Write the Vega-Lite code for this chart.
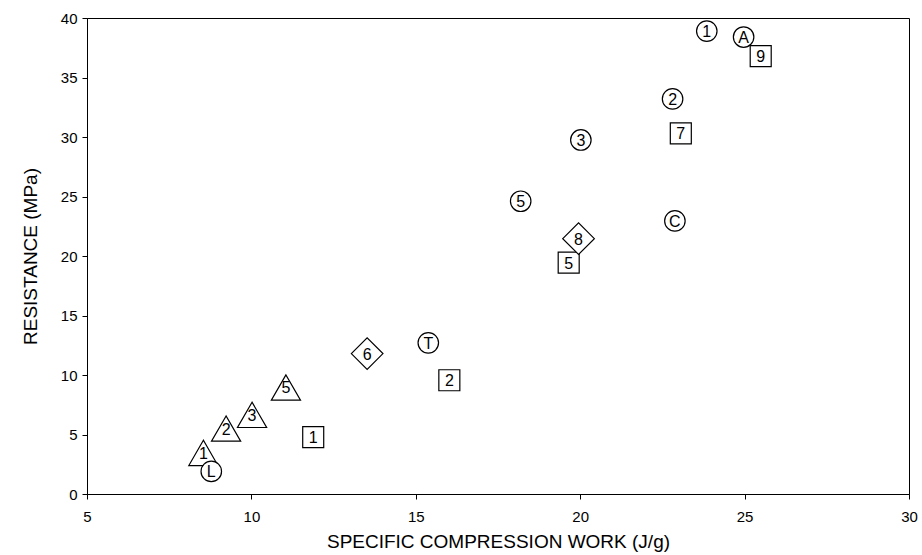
{
  "$schema": "https://vega.github.io/schema/vega-lite/v6.json",
  "width": 822,
  "height": 476,
  "autosize": "none",
  "padding": {"left": 87, "top": 18, "right": 13, "bottom": 61},
  "background": "white",
  "config": {
    "view": {"stroke": "black", "strokeWidth": 1},
    "font": "Liberation Sans",
    "axis": {
      "domainColor": "black",
      "tickColor": "black",
      "labelColor": "black",
      "titleColor": "black",
      "grid": false,
      "labelFont": "Liberation Sans",
      "titleFont": "Liberation Sans",
      "labelFontSize": 15,
      "titleFontSize": 19,
      "titleFontWeight": "normal",
      "tickSize": 5
    }
  },
  "data": {
    "values": [
      {"x": 23.85, "y": 38.9, "group": "circle", "label": "1"},
      {"x": 24.97, "y": 38.4, "group": "circle", "label": "A"},
      {"x": 25.49, "y": 36.8, "group": "square", "label": "9"},
      {"x": 22.81, "y": 33.2, "group": "circle", "label": "2"},
      {"x": 23.06, "y": 30.3, "group": "square", "label": "7"},
      {"x": 20.02, "y": 29.75, "group": "circle", "label": "3"},
      {"x": 18.19, "y": 24.6, "group": "circle", "label": "5"},
      {"x": 22.88, "y": 22.95, "group": "circle", "label": "C"},
      {"x": 19.65, "y": 19.45, "group": "square", "label": "5"},
      {"x": 19.95, "y": 21.46, "group": "diamond", "label": "8"},
      {"x": 15.38, "y": 12.7, "group": "circle", "label": "T"},
      {"x": 16.02, "y": 9.56, "group": "square", "label": "2"},
      {"x": 13.52, "y": 11.8, "group": "diamond", "label": "6"},
      {"x": 11.88, "y": 4.78, "group": "square", "label": "1"},
      {"x": 11.05, "y": 8.95, "group": "triangle", "label": "5"},
      {"x": 10.02, "y": 6.65, "group": "triangle", "label": "3"},
      {"x": 9.23, "y": 5.5, "group": "triangle", "label": "2"},
      {"x": 8.54, "y": 3.45, "group": "triangle", "label": "1"},
      {"x": 8.78, "y": 1.9, "group": "circle", "label": "L"}
    ]
  },
  "encoding": {
    "x": {
      "field": "x", "type": "quantitative",
      "scale": {"domain": [5, 30], "nice": false, "zero": false},
      "axis": {"values": [5, 10, 15, 20, 25, 30], "title": "SPECIFIC COMPRESSION WORK (J/g)", "labelPadding": 10, "titlePadding": 8, "labelFlush": false}
    },
    "y": {
      "field": "y", "type": "quantitative",
      "scale": {"domain": [0, 40], "nice": false},
      "axis": {"values": [0, 5, 10, 15, 20, 25, 30, 35, 40], "title": "RESISTANCE (MPa)", "labelPadding": 5, "titlePadding": 20, "labelFlush": false}
    }
  },
  "layer": [
    {
      "mark": {"type": "point", "filled": true, "fill": "white", "stroke": "black", "strokeWidth": 1.2, "opacity": 1},
      "encoding": {
        "shape": {
          "field": "group", "type": "nominal",
          "scale": {"domain": ["circle", "square", "triangle", "diamond"], "range": ["circle", "square", "triangle-up", "diamond"]},
          "legend": null
        },
        "size": {
          "field": "group", "type": "nominal",
          "scale": {"type": "ordinal", "domain": ["circle", "square", "triangle", "diamond"], "range": [420, 441, 850, 1000]},
          "legend": null
        }
      }
    },
    {
      "mark": {"type": "text", "font": "Liberation Sans", "fontSize": 16, "color": "black", "baseline": "middle", "align": "center", "dy": 1},
      "encoding": {
        "text": {"field": "label", "type": "nominal"}
      }
    }
  ]
}
